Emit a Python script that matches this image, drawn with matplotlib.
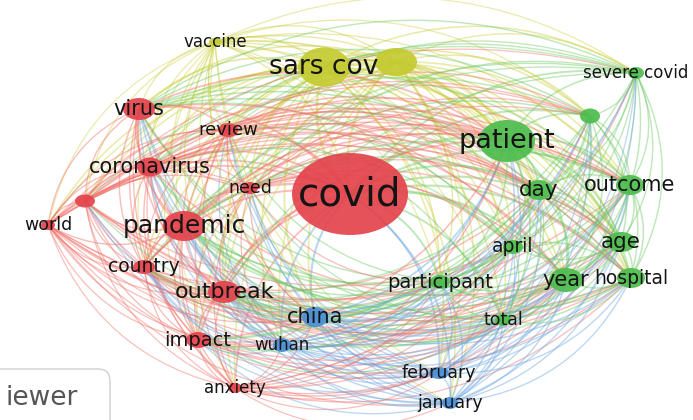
import numpy as np
import matplotlib
matplotlib.use("Agg")
import matplotlib.pyplot as plt
from matplotlib.patches import Ellipse, PathPatch, FancyBboxPatch
from matplotlib.path import Path

# term map (pixel coordinates of the original map)
labels = ["covid", "sars cov", "", "vaccine", "virus", "review", "coronavirus",
          "need", "", "world", "pandemic", "country", "outbreak", "china",
          "impact", "wuhan", "anxiety", "patient", "severe covid", "",
          "day", "outcome", "age", "april", "year", "hospital", "participant",
          "total", "february", "january"]
node_x = [350, 324, 396, 215, 139, 228, 150, 250, 85, 48, 184, 144, 224, 315,
          198, 282, 235, 507, 636, 590, 539, 630, 621, 513, 566, 631, 440,
          503, 439, 450]
node_y = [194, 67, 62, 42, 109, 130, 167, 188, 201, 225, 226, 267, 292, 317,
          340, 345, 388, 141, 73, 116, 190, 185, 242, 247, 280, 278, 282,
          320, 373, 403]
node_w = [58, 26, 21, 6, 16, 10, 13, 8, 10, 7, 21, 11, 16, 13, 12, 9, 7, 28,
          8, 10, 14, 14, 15, 10, 17, 14, 10, 8, 10, 8]
node_h = [41, 19.5, 14, 4, 11, 7, 9.5, 6, 6.5, 5, 15, 7, 11, 10, 8, 7, 5, 21,
          6, 7.5, 10, 10, 10, 7, 12, 10, 7, 6, 6, 6]
cluster = [0, 3, 3, 3, 0, 0, 0, 0, 0, 0, 0, 0, 0, 2, 0, 2, 0, 1, 1, 1, 1, 1,
           1, 1, 1, 1, 1, 1, 2, 2]
font_size = [28, 19, 0, 12, 15, 13, 15, 12.5, 0, 12.5, 18, 13.5, 16, 15, 14,
             12, 12, 19.5, 12, 0, 15.5, 15, 15.5, 13.5, 15, 13.5, 14, 12.5,
             12.5, 12.5]

node_colors = ["#e4434c", "#4dbd4d", "#4a8fd6", "#c4cb30"]
edge_colors = ["#f07068", "#6cca62", "#6aa5e0", "#cdd040"]
# colour of a link between two clusters (-1: take the smaller term's colour)
link_colour = [[0, -1, -1, 3],
               [-1, 1, 2, 3],
               [-1, 2, 2, 3],
               [3, 3, 3, 3]]

fig = plt.figure(figsize=(6.93, 4.20), dpi=100)
ax = fig.add_axes([0, 0, 1, 1])
ax.set_xlim(0, 693)
ax.set_ylim(420, 0)
ax.axis("off")

cx, cy = np.mean(node_x), np.mean(node_y)
n = len(labels)
for i in range(n):
    for j in range(i + 1, n):
        x0, y0, x1, y1 = node_x[i], node_y[i], node_x[j], node_y[j]
        mx, my = (x0 + x1) / 2, (y0 + y1) / 2
        dx, dy = x1 - x0, y1 - y0
        L = np.hypot(dx, dy)
        px, py = -dy / L, dx / L
        if (mx - cx) * px + (my - cy) * py < 0:
            px, py = -px, -py
        ctrl = (mx + px * 0.28 * L, my + py * 0.28 * L)
        c = link_colour[cluster[i]][cluster[j]]
        if c < 0:
            c = cluster[i] if node_h[i] < node_h[j] else cluster[j]
        lw = 0.65 + 0.045 * np.sqrt(node_h[i] * node_h[j])
        path = Path([(x0, y0), ctrl, (x1, y1)],
                    [Path.MOVETO, Path.CURVE3, Path.CURVE3])
        ax.add_patch(PathPatch(path, fc="none", ec=edge_colors[c],
                               lw=lw, alpha=0.44, zorder=1))

for i in range(n):
    ax.add_patch(Ellipse((node_x[i], node_y[i]), 2 * node_w[i], 2 * node_h[i],
                         fc=node_colors[cluster[i]], ec="none", alpha=0.92,
                         zorder=2))

for i in range(n):
    if labels[i]:
        ax.text(node_x[i], node_y[i], labels[i], fontsize=font_size[i],
                ha="center", va="center", color="#141414",
                family="DejaVu Sans", zorder=3)

box = FancyBboxPatch((-20, 369), 130, 70, boxstyle="round,pad=0,rounding_size=12",
                     fc="white", ec="#d0d0d0", lw=1, zorder=4)
ax.add_patch(box)
ax.text(6, 398, "iewer", fontsize=19, ha="left", va="center", color="#555555",
        family="DejaVu Sans", zorder=5)

plt.savefig("out.png", dpi=100)
